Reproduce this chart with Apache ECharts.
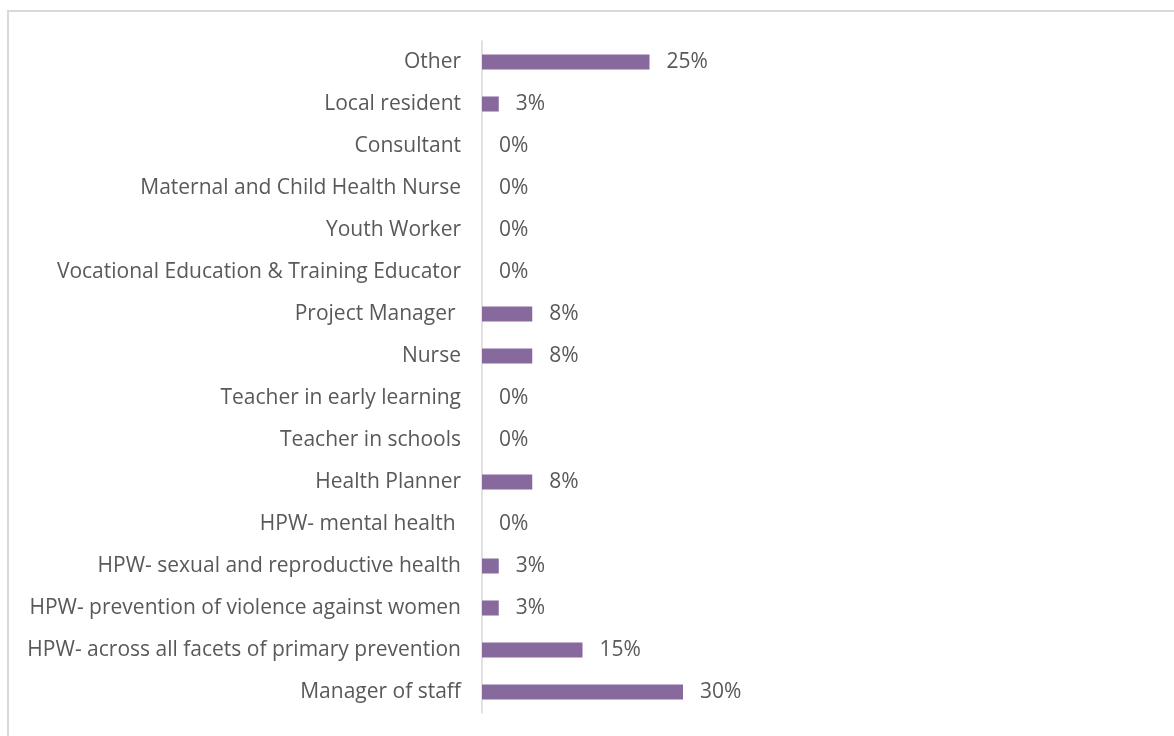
<!DOCTYPE html>
<html>
<head>
<meta charset="utf-8">
<script src="https://cdn.jsdelivr.net/npm/echarts@6/dist/echarts.min.js"></script>
<style>
  html, body { margin: 0; padding: 0; background: #fff; }
  #chart { width: 1174px; height: 736px; }
</style>
</head>
<body>
<div id="chart"></div>
<script>
// Roles of respondents, listed top to bottom
const roles = [
  'Other',
  'Local resident',
  'Consultant',
  'Maternal and Child Health Nurse',
  'Youth Worker',
  'Vocational Education & Training Educator',
  'Project Manager ',
  'Nurse',
  'Teacher in early learning',
  'Teacher in schools',
  'Health Planner',
  'HPW- mental health ',
  'HPW- sexual and reproductive health',
  'HPW- prevention of violence against women',
  'HPW- across all facets of primary prevention',
  'Manager of staff'
];
// Share of respondents (%)
const shares = [25, 2.5, 0, 0, 0, 0, 7.5, 7.5, 0, 0, 7.5, 0, 2.5, 2.5, 15, 30];

const chart = echarts.init(document.getElementById('chart'));
chart.setOption({
  animation: false,
  backgroundColor: '#ffffff',
  graphic: [
    { type: 'line', shape: { x1: 8, y1: 11, x2: 1174, y2: 11 }, style: { stroke: '#d9d9d9', lineWidth: 2 } },
    { type: 'line', shape: { x1: 8, y1: 10, x2: 8, y2: 736 }, style: { stroke: '#d9d9d9', lineWidth: 2 } }
  ],
  grid: { left: 482, right: 22, top: 41, bottom: 23, containLabel: false },
  xAxis: {
    type: 'value',
    min: 0,
    max: 100,
    show: false
  },
  yAxis: {
    type: 'category',
    data: roles,
    inverse: true,
    axisLine: { show: true, lineStyle: { color: '#d9d9d9', width: 1.5 } },
    axisTick: { show: false },
    axisLabel: {
      color: '#595959',
      fontFamily: 'Open Sans',
      fontSize: 21,
      margin: 21
    }
  },
  series: [{
    type: 'bar',
    data: shares,
    barWidth: 15,
    itemStyle: { color: '#87699d' },
    label: {
      show: true,
      position: 'right',
      distance: 17,
      color: '#595959',
      fontFamily: 'Open Sans',
      fontSize: 21,
      formatter: p => Math.round(p.value) + '%'
    }
  }]
});
</script>
</body>
</html>
